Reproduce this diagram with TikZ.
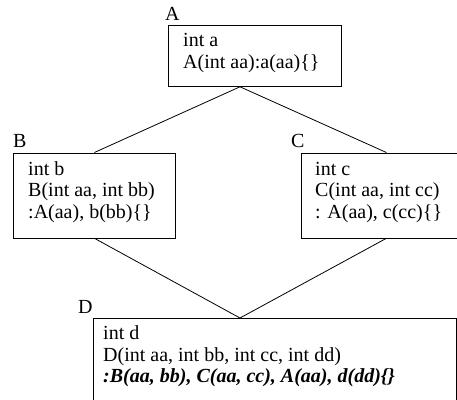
\documentclass[tikz,border=0pt]{standalone}
\usepackage{fontspec}
\setmainfont{Liberation Serif}
\usetikzlibrary{calc}

\tikzset{
  classbox/.style={rectangle, draw, line width=0.8pt, inner sep=0pt, anchor=north west},
  codeline/.style={anchor=base west, inner sep=0pt, font=\fontsize{20}{22}\selectfont},
  boxname/.style={anchor=base west, inner sep=0pt, font=\fontsize{20}{22}\selectfont},
  link/.style={line width=0.8pt}
}

\begin{document}
\begin{tikzpicture}[x=1pt, y=-1pt]
    \useasboundingbox (0,0) rectangle (457,399);

    % Boxes
    \node (A) [classbox, minimum width=173pt, minimum height=61pt] at (168,25) {};
    \node (B) [classbox, minimum width=162pt, minimum height=85pt] at (13,152.5) {};
    \node (C) [classbox, minimum width=170pt, minimum height=85pt] at (301,152.5) {};
    \node (D) [classbox, minimum width=363pt, minimum height=90pt] at (93,318) {};
    \coordinate (mid) at (240,0);

    % Names
    \node (nameA) [boxname] at (165,20) {A};
    \node (nameB) [boxname] at (13,147) {B};
    \node (nameC) [boxname] at (291,147) {C};
    \node (nameD) [boxname] at (78,313) {D};

    % Members
    \node (a1) [codeline] at ($(A.north west)+(15,21.5)$) {int a};
    \node (a2) [codeline] at ($(A.north west)+(15,43)$) {A(int aa):a(aa)\{\}};

    \node (b1) [codeline] at ($(B.north west)+(15,22.5)$) {int b};
    \node (b2) [codeline] at ($(B.north west)+(15,44)$) {B(int aa, int bb)};
    \node (b3) [codeline] at ($(B.north west)+(15,65.5)$) {:A(aa), b(bb)\{\}};

    \node (c1) [codeline] at ($(C.north west)+(14,22.5)$) {int c};
    \node (c2) [codeline] at ($(C.north west)+(14,44)$) {C(int aa, int cc)};
    \node (c3) [codeline] at ($(C.north west)+(14,65.5)$) {: A(aa), c(cc)\{\}};

    \node (d1) [codeline] at ($(D.north west)+(10,21.5)$) {int d};
    \node (d2) [codeline] at ($(D.north west)+(10,43)$) {D(int aa, int bb, int cc, int dd)};
    \node (d3) [codeline] at ($(D.north west)+(10,64.5)$) {\bfseries\itshape :B(aa, bb), C(aa, cc), A(aa), d(dd)\{\}};

    % Lines
    \draw[link] (A.south -| mid) -- (B.north);
    \draw[link] (A.south -| mid) -- (C.north);
    \draw[link] (B.south) -- (D.north -| mid);
    \draw[link] (C.south) -- (D.north -| mid);
\end{tikzpicture}
\end{document}
